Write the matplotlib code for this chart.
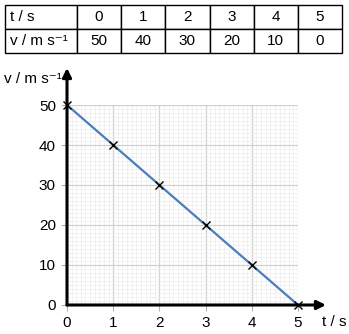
import matplotlib
matplotlib.use("Agg")
import matplotlib.pyplot as plt
from matplotlib.ticker import MultipleLocator

t_values = [0, 1, 2, 3, 4, 5]
v_values = [50, 40, 30, 20, 10, 0]
row_labels = ["t / s", "v / m s\u207b\u00b9"]
x_label = "t / s"
y_label = "v / m s\u207b\u00b9"

plt.rcParams['font.family'] = ['Liberation Sans', 'DejaVu Sans']
FS = 11

W, H = 349, 334
fig = plt.figure(figsize=(W / 100, H / 100), dpi=100)

# --- table ---
tax = fig.add_axes([5 / W, (H - 53) / H, 337 / W, 48 / H])
tax.axis("off")
cell_text = [[row_labels[0]] + [str(t) for t in t_values],
             [row_labels[1]] + [str(v) for v in v_values]]
first_w = 72 / 337
other_w = (1 - first_w) / len(t_values)
tbl = tax.table(cellText=cell_text, bbox=[0, 0, 1, 1],
                colWidths=[first_w] + [other_w] * len(t_values),
                cellLoc="center")
tbl.auto_set_font_size(False)
tbl.set_fontsize(FS)
for (r, c), cell in tbl.get_celld().items():
    cell.set_linewidth(1.0)
    cell.set_edgecolor("black")
    if c == 0:
        cell.set_text_props(ha="left")
        cell.PAD = 0.07

# --- chart ---
ax = fig.add_axes([67 / W, (H - 305) / H, 231 / W, 200 / H])
ax.set_xlim(0, 5)
ax.set_ylim(0, 50)
ax.xaxis.set_major_locator(MultipleLocator(1))
ax.yaxis.set_major_locator(MultipleLocator(10))
ax.xaxis.set_minor_locator(MultipleLocator(0.1))
ax.yaxis.set_minor_locator(MultipleLocator(1))
ax.grid(which="major", color="#d0d0d0", linewidth=0.9)
ax.grid(which="minor", color="#efefef", linewidth=0.6)
ax.set_axisbelow(True)
for s in ["top", "right", "left", "bottom"]:
    ax.spines[s].set_visible(False)
ax.tick_params(which="major", length=4, color="#b0b0b0", labelsize=FS, pad=4)
ax.tick_params(which="minor", length=0)

ax.plot(t_values, v_values, color="#4a7ebb", linewidth=1.6, zorder=3, clip_on=False)
ax.plot(t_values, v_values, linestyle="none", marker="x", color="black",
        markersize=6, markeredgewidth=1.0, zorder=4, clip_on=False)

# axis arrows
ax.annotate("", xy=((326 - 67) / 231, 0), xytext=(0, 0),
            xycoords="axes fraction", textcoords="axes fraction",
            arrowprops=dict(arrowstyle="-|>", color="black", lw=2.2,
                            mutation_scale=13, shrinkA=0, shrinkB=0))
ax.annotate("", xy=(0, (305 - 68) / 200), xytext=(0, 0),
            xycoords="axes fraction", textcoords="axes fraction",
            arrowprops=dict(arrowstyle="-|>", color="black", lw=2.2,
                            mutation_scale=13, shrinkA=0, shrinkB=0))

fig.text(4 / W, 1 - 79 / H, y_label, fontsize=FS, ha="left", va="center")
fig.text(346 / W, 1 - 322 / H, x_label, fontsize=FS, ha="right", va="center")

fig.savefig("out.png", dpi=100)
